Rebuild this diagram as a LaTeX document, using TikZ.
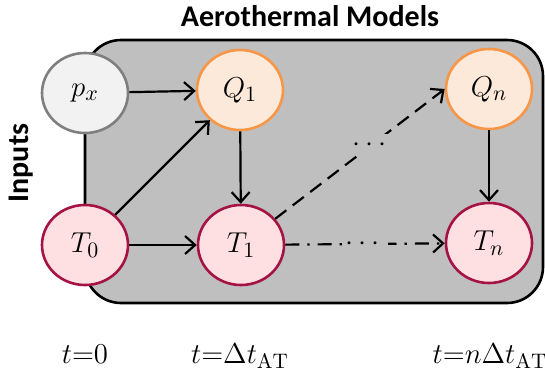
\documentclass[tikz,border=0pt]{standalone}
\usepackage{amsmath}
\usepackage{fontspec}
\newfontfamily\titlefont{Carlito}
\usetikzlibrary{arrows.meta,shapes.geometric}
\definecolor{aeroboxgray}{RGB}{191,191,191}
\definecolor{aeroinfill}{RGB}{242,242,242}
\definecolor{aeroinline}{RGB}{127,127,127}
\definecolor{aeroheatfill}{RGB}{253,233,217}
\definecolor{aeroheatline}{RGB}{247,150,70}
\definecolor{aerotempfill}{RGB}{255,224,226}
\definecolor{aerotempline}{RGB}{165,18,68}

\begin{document}
\begin{tikzpicture}[x=0.5pt,y=-0.5pt,
  statenode/.style={ellipse,minimum width=43pt,minimum height=40pt,inner sep=0pt,
    line width=1.3pt,font=\fontsize{15}{17}\selectfont},
  inputnode/.style={statenode,fill=aeroinfill,draw=aeroinline},
  heatnode/.style={statenode,fill=aeroheatfill,draw=aeroheatline},
  tempnode/.style={statenode,fill=aerotempfill,draw=aerotempline},
  flow/.style={line width=1.1pt,-{Straight Barb[length=5pt,width=9pt]}},
  dotsgap/.style={fill=aeroboxgray,inner sep=2pt,font=\fontsize{15}{17}\selectfont},
  titletext/.style={font=\titlefont\bfseries\fontsize{15}{18}\selectfont},
  timelabel/.style={anchor=base,font=\fontsize{15}{17}\selectfont}]
  \useasboundingbox (0,0) rectangle (545,381);
  % model box
  \draw[fill=aeroboxgray,line width=1.3pt,rounded corners=18pt] (85,40) rectangle (543,303);
  \node[titletext] (title) at (310,16) {Aerothermal Models};
  \node[titletext,rotate=90] (inputs) at (21,163) {Inputs};
  % states
  \node[inputnode] (px) at (85,93) {$p_x$};
  \node[heatnode] (Q1) at (240,90) {$Q_1$};
  \node[heatnode] (Qn) at (489,89) {$Q_n$};
  \node[tempnode] (T0) at (85,245) {$T_0$};
  \node[tempnode] (T1) at (241,245) {$T_1$};
  \node[tempnode] (Tn) at (489,243) {$T_n$};
  % links
  \draw[flow] (px) -- (Q1);
  \draw[flow] (T0) -- (Q1);
  \draw[flow] (T0) -- (T1);
  \draw[flow] (Q1) -- (T1);
  \draw[flow,dash pattern=on 7pt off 4pt] (T1) -- node[dotsgap,pos=0.57] (dotsup) {$\cdots$} (Qn.west);
  \draw[flow,dash pattern=on 7pt off 4pt on 1.2pt off 4pt] (T1) -- node[dotsgap] (dotsmid) {$\cdots$} (Tn);
  \draw[flow] (Qn) -- (Tn);
  % time axis
  \node[timelabel] (tzero) at (85,363) {$t{=}0$};
  \node[timelabel] (tone) at (240,363) {$t{=}\Delta t_{\mathrm{AT}}$};
  \node[timelabel] (tlast) at (490,363) {$t{=}n\Delta t_{\mathrm{AT}}$};
\end{tikzpicture}
\end{document}
